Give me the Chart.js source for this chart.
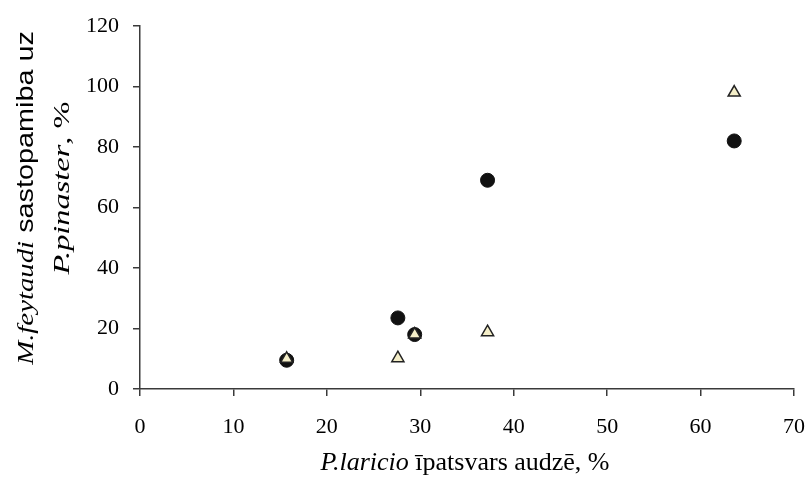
<!DOCTYPE html>
<html>
<head>
<meta charset="utf-8">
<script src="https://cdn.jsdelivr.net/npm/chart.js@4.4.0/dist/chart.umd.min.js"></script>
<style>
    body { margin: 0; background: #fff; }
    #wrap { position: relative; width: 808px; height: 479px; }
    #chart { position: absolute; left: 0; top: 0; }
    .title { position: absolute; white-space: nowrap; color: #000; font-family: 'Liberation Serif', serif; font-size: 24px; line-height: 1; }
    .rot1 { transform: translate(-50%, -50%) rotate(-90deg) scaleX(1.2); }
    .rot2 { transform: translate(-50%, -50%) rotate(-90deg) scaleX(1.35); }
    .hor { transform: translate(-50%, -50%); font-size: 26px; }
    .sans { font-family: 'Liberation Sans', sans-serif; }
    i { font-style: italic; }
</style>
</head>
<body>
<div id="wrap">
    <canvas id="chart" width="808" height="479"></canvas>
    <div class="title rot1" style="left:25px; top:198px;"><i>M.feytaudi</i><span class="sans"> sastopamiba uz</span></div>
    <div class="title rot2" style="left:61px; top:188px;"><i>P.pinaster</i>, %</div>
    <div class="title hor" style="left:465px; top:462px;"><i>P.laricio</i> īpatsvars audzē, %</div>
</div>
<script>
(function() {
    'use strict';

    // ===== DATA =====
    const circleX = [15.7, 27.6, 29.4, 37.2, 63.6];
    const circleY = [9.5, 23.5, 18.0, 69.0, 82.0];
    const triangleX = [15.7, 27.6, 29.4, 37.2, 63.6];
    const triangleY = [10.0, 10.2, 18.0, 18.8, 98.0];
    const xTicks = [0, 10, 20, 30, 40, 50, 60, 70];
    const yTicks = [0, 20, 40, 60, 80, 100, 120];

    function toPoints(xs, ys) {
        return xs.map((x, i) => ({ x: x, y: ys[i] }));
    }

    const tickFont = { family: "'Liberation Serif', serif", size: 22 };
    const axisColor = '#3a3a3a';

    const ctx = document.getElementById('chart').getContext('2d');
    new Chart(ctx, {
        type: 'scatter',
        data: {
            datasets: [
                {
                    label: 'circles',
                    data: toPoints(circleX, circleY),
                    pointStyle: 'circle',
                    pointRadius: 7,
                    backgroundColor: '#111',
                    borderColor: '#111',
                    borderWidth: 1,
                    order: 2
                },
                {
                    label: 'triangles',
                    data: toPoints(triangleX, triangleY),
                    pointStyle: 'triangle',
                    pointRadius: 7,
                    backgroundColor: '#f4eec8',
                    borderColor: '#222',
                    borderWidth: 1.5,
                    order: 1
                }
            ]
        },
        options: {
            responsive: false,
            animation: false,
            layout: { padding: { top: 26, right: 14, left: 0, bottom: 0 } },
            plugins: { legend: { display: false }, tooltip: { enabled: false } },
            scales: {
                x: {
                    type: 'linear',
                    min: xTicks[0],
                    max: xTicks[xTicks.length - 1],
                    afterBuildTicks: s => { s.ticks = xTicks.map(v => ({ value: v })); },
                    afterFit: s => { s.height = 90; s.paddingLeft = 0; s.paddingRight = 0; },
                    ticks: { font: tickFont, color: '#000', padding: 18, maxRotation: 0 },
                    grid: { drawOnChartArea: false, tickLength: 7, color: axisColor, lineWidth: 1.5 },
                    border: { color: axisColor, width: 1.5 }
                },
                y: {
                    type: 'linear',
                    min: yTicks[0],
                    max: yTicks[yTicks.length - 1],
                    afterBuildTicks: s => { s.ticks = yTicks.map(v => ({ value: v })); },
                    afterFit: s => { s.width = 140; s.paddingTop = 0; s.paddingBottom = 0; },
                    ticks: { font: tickFont, color: '#000', padding: 14 },
                    grid: { drawOnChartArea: false, tickLength: 7, color: axisColor, lineWidth: 1.5 },
                    border: { color: axisColor, width: 1.5 }
                }
            }
        }
    });
})();
</script>
</body>
</html>
